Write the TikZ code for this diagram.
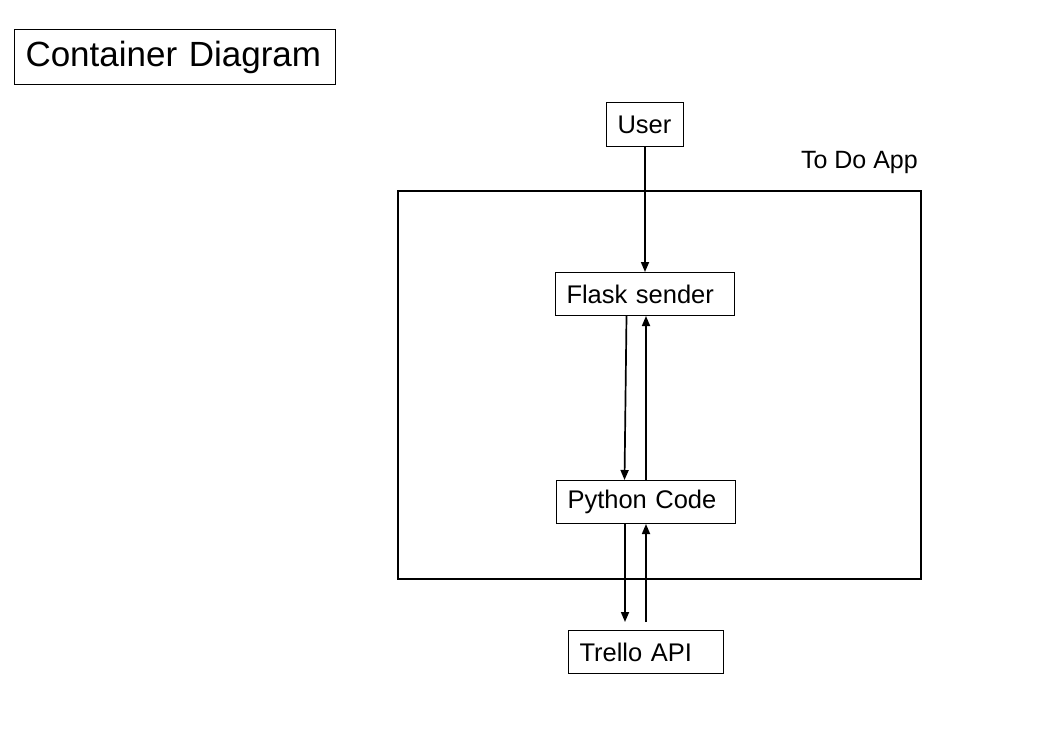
\documentclass[tikz,border=0pt]{standalone}
\usepackage{fontspec}
\setmainfont{Liberation Sans}
\usetikzlibrary{arrows.meta}
\begin{document}
\begin{tikzpicture}[x=1pt,y=-1pt,
  box/.style={draw, line width=1pt, anchor=north west, inner xsep=11pt, inner ysep=0pt, align=left, font=\fontsize{25.5}{29}\selectfont},
  arr/.style={line width=1.7pt, -{Triangle[length=10pt,width=8pt]}}]
\useasboundingbox (0,0) rectangle (1045,732);
\fill[white] (0,0) rectangle (1045,732);
\node[box, minimum width=321, minimum height=55, text width=299, inner xsep=11pt, font=\fontsize{35}{40}\selectfont] (title) at (14,29) {Container Diagram};
\node[draw, line width=2pt, minimum width=523, minimum height=388, anchor=north west] (app) at (397,190) {};
\node[anchor=base east, inner sep=0pt, font=\fontsize{25}{29}\selectfont] (applabel) at (918,168) {To Do App};
\node[box, minimum width=77, minimum height=44, text width=55] (user) at (606,102) {User};
\node[box, minimum width=179, minimum height=43, text width=157] (flask) at (555,272) {Flask sender};
\node[box, minimum width=179, minimum height=43, text width=157] (python) at (556,480) {Python Code};
\node[box, minimum width=155, minimum height=43, text width=133] (trello) at (568,630) {Trello API};
\draw[arr] (user.south) -- (flask.north);
\draw[arr] ([xshift=-18.5pt]flask.south) -- ([xshift=-21.5pt]python.north);
\draw[arr] (python.north) -- (flask.south -| python.north);
\draw[arr, shorten >=8pt] ([xshift=-21pt]python.south) -- ([xshift=-21pt]python.south |- trello.north);
\draw[arr, shorten <=8pt] (trello.north -| python.south) -- (python.south);
\end{tikzpicture}
\end{document}
